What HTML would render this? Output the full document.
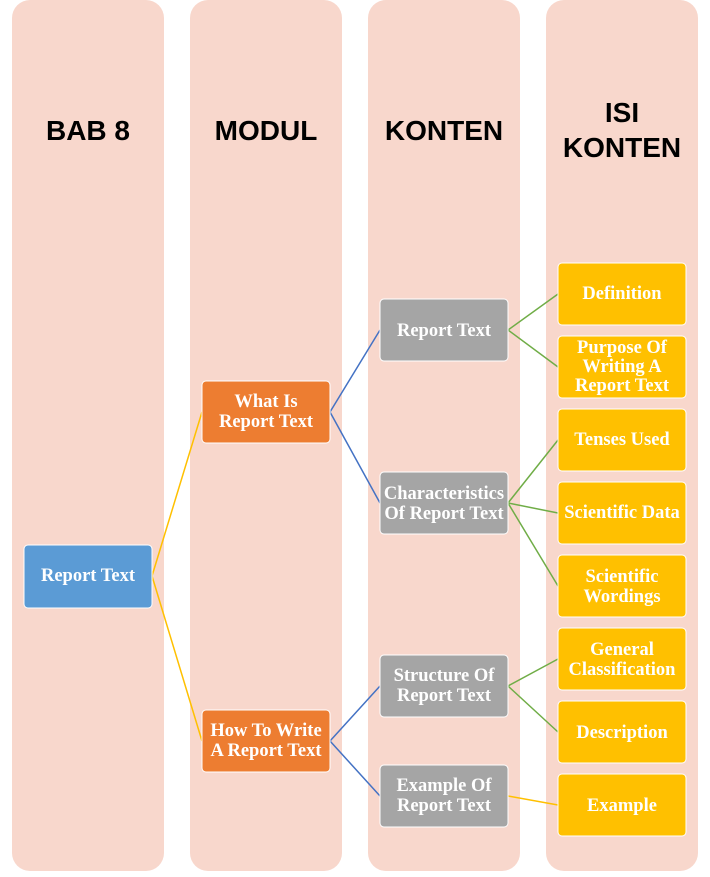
<!DOCTYPE html>
<html><head><meta charset="utf-8"><style>
body{margin:0;background:#fff;width:710px;height:872px;overflow:hidden}
.h{font-family:"Liberation Sans",sans-serif;font-weight:bold;font-size:28px;fill:#000}
.t{font-family:"Liberation Serif",serif;font-weight:bold;font-size:18.5px;fill:#fff}
</style></head><body>
<svg width="710" height="872" xmlns="http://www.w3.org/2000/svg">
<g fill="#F8D7CC">
<rect x="12" y="0" width="152" height="871" rx="18"/>
<rect x="190" y="0" width="152" height="871" rx="18"/>
<rect x="368" y="0" width="152" height="871" rx="18"/>
<rect x="546" y="0" width="152" height="871" rx="18"/>
</g>
<g class="h" text-anchor="middle">
<text x="88" y="140">BAB 8</text>
<text x="266" y="140">MODUL</text>
<text x="444" y="140">KONTEN</text>
<text x="622" y="122">ISI</text>
<text x="622" y="157">KONTEN</text>
</g>
<g fill="none" stroke-width="1.5">
<path d="M152 576 L202 412 M152 576 L202 741" stroke="#FFC000"/>
<path d="M330 412 L380 330 M330 412 L380 503 M330 741 L380 686 M330 741 L380 796" stroke="#4472C4"/>
<path d="M508 330 L558 294 M508 330 L558 367 M508 503 L558 440 M508 503 L558 513 M508 503 L558 586 M508 686 L558 659 M508 686 L558 732" stroke="#70AD47"/>
<path d="M508 796 L558 805" stroke="#FFC000"/>
</g>
<g stroke="#fff" stroke-width="1">
<rect x="24" y="545" width="128" height="63" rx="4" fill="#5B9BD5"/>
<rect x="202" y="381" width="128" height="62" rx="4" fill="#ED7D31"/>
<rect x="202" y="710" width="128" height="62" rx="4" fill="#ED7D31"/>
<g fill="#A5A5A5">
<rect x="380" y="299" width="128" height="62" rx="4"/>
<rect x="380" y="472" width="128" height="62" rx="4"/>
<rect x="380" y="655" width="128" height="62" rx="4"/>
<rect x="380" y="765" width="128" height="62" rx="4"/>
</g>
<g fill="#FFC000">
<rect x="558" y="263" width="128" height="62" rx="4"/>
<rect x="558" y="336" width="128" height="62" rx="4"/>
<rect x="558" y="409" width="128" height="62" rx="4"/>
<rect x="558" y="482" width="128" height="62" rx="4"/>
<rect x="558" y="555" width="128" height="62" rx="4"/>
<rect x="558" y="628" width="128" height="62" rx="4"/>
<rect x="558" y="701" width="128" height="62" rx="4"/>
<rect x="558" y="774" width="128" height="62" rx="4"/>
</g>
</g>
<g class="t" text-anchor="middle">
<text x="88" y="581">Report Text</text>
<text x="266" y="407">What Is</text><text x="266" y="427">Report Text</text>
<text x="266" y="736">How To Write</text><text x="266" y="756">A Report Text</text>
<text x="444" y="336">Report Text</text>
<text x="444" y="499">Characteristics</text><text x="444" y="519">Of Report Text</text>
<text x="444" y="681">Structure Of</text><text x="444" y="701">Report Text</text>
<text x="444" y="791">Example Of</text><text x="444" y="811">Report Text</text>
<text x="622" y="299">Definition</text>
<text x="622" y="353">Purpose Of</text><text x="622" y="372">Writing A</text><text x="622" y="391">Report Text</text>
<text x="622" y="445">Tenses Used</text>
<text x="622" y="518">Scientific Data</text>
<text x="622" y="582">Scientific</text><text x="622" y="602">Wordings</text>
<text x="622" y="655">General</text><text x="622" y="675">Classification</text>
<text x="622" y="738">Description</text>
<text x="622" y="811">Example</text>
</g>
</svg>
</body></html>
